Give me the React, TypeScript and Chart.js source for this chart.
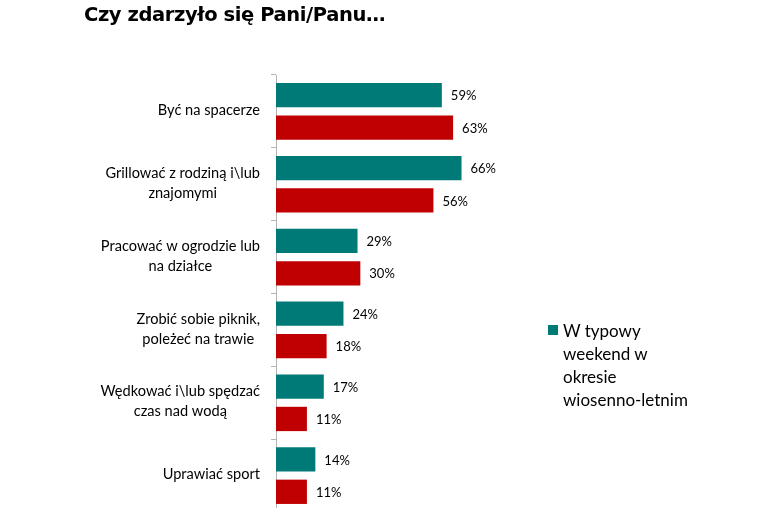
import { useEffect, useRef } from 'react';
import { Chart, registerables } from 'chart.js';

Chart.register(...registerables);

// dane
const categories: string[][] = [
  ['Być na spacerze'],
  ['Grillować z rodziną i\\lub', 'znajomymi'],
  ['Pracować w ogrodzie lub', 'na działce'],
  ['Zrobić sobie piknik,', 'poleżeć na trawie'],
  ['Wędkować i\\lub spędzać', 'czas nad wodą'],
  ['Uprawiać sport'],
];
const weekendValues = [59, 66, 29, 24, 17, 14];
const otherValues = [63, 56, 30, 18, 11, 11];
const weekendLabel = 'W typowy weekend w okresie wiosenno-letnim';
const otherLabel = 'Ogółem';

const TEAL = '#007a77';
const RED = '#c00000';
const LABEL_FONT = '14.6px Lato, "Liberation Sans", sans-serif';

// etykiety wartości obok słupków
const valueLabels = {
  id: 'valueLabels',
  afterDatasetsDraw(chart: Chart) {
    const { ctx } = chart;
    ctx.save();
    ctx.font = '13px Lato, "Liberation Sans", sans-serif';
    ctx.fillStyle = '#000';
    ctx.textAlign = 'left';
    ctx.textBaseline = 'middle';
    chart.data.datasets.forEach((ds, di) => {
      const meta = chart.getDatasetMeta(di);
      meta.data.forEach((bar: any, i) => {
        ctx.fillText(`${ds.data[i]}%`, bar.x + 9, bar.y + 1);
      });
    });
    ctx.restore();
  },
};

// etykiety kategorii, wyśrodkowane wiersze
const categoryLabels = {
  id: 'categoryLabels',
  afterDraw(chart: Chart) {
    const { ctx } = chart;
    const scale: any = chart.scales.y;
    const right = scale.right - 16;
    const lineH = 20;
    ctx.save();
    ctx.font = LABEL_FONT;
    ctx.fillStyle = '#000';
    ctx.textAlign = 'center';
    ctx.textBaseline = 'middle';
    categories.forEach((lines, i) => {
      const y = scale.getPixelForTick(i);
      const w = Math.max(...lines.map((l) => ctx.measureText(l).width));
      const cx = right - w / 2;
      const y0 = y - ((lines.length - 1) * lineH) / 2;
      lines.forEach((l, k) => ctx.fillText(l, cx, y0 + k * lineH - 1));
    });
    ctx.restore();
  },
};

export default function App() {
  const canvasRef = useRef<HTMLCanvasElement>(null);

  useEffect(() => {
    if (!canvasRef.current) return;
    const chart = new Chart(canvasRef.current, {
      type: 'bar',
      data: {
        labels: categories.map((c) => c.join(' ')),
        datasets: [
          {
            label: weekendLabel,
            data: weekendValues,
            backgroundColor: TEAL,
            categoryPercentage: 0.89,
            barPercentage: 0.75,
          },
          {
            label: otherLabel,
            data: otherValues,
            backgroundColor: RED,
            categoryPercentage: 0.89,
            barPercentage: 0.75,
          },
        ],
      },
      options: {
        indexAxis: 'y',
        animation: false,
        responsive: true,
        maintainAspectRatio: false,
        layout: { padding: { top: 75, right: 239, bottom: 4, left: 0 } },
        plugins: {
          legend: { display: false },
          tooltip: { enabled: false },
        },
        scales: {
          x: { display: false, min: 0, max: 90 },
          y: {
            afterFit: (scale: any) => {
              scale.width = 276;
            },
            ticks: { display: false },
            grid: {
              offset: true,
              drawOnChartArea: false,
              drawTicks: true,
              tickLength: 5,
              color: '#b3b3b3',
            },
            border: { display: true, color: '#b3b3b3' },
          },
        },
      },
      plugins: [valueLabels, categoryLabels],
    });
    return () => chart.destroy();
  }, []);

  return (
    <div
      style={{
        position: 'fixed',
        left: 0,
        top: 0,
        width: 768,
        height: 508,
        overflow: 'hidden',
        background: '#fff',
      }}
    >
      <div style={{ position: 'absolute', left: 0, top: 0, width: 768, height: 516 }}>
        <canvas ref={canvasRef} />
      </div>
      <div
        style={{
          position: 'absolute',
          left: 84,
          top: 3,
          fontFamily: '"DejaVu Sans", sans-serif',
          fontWeight: 'bold',
          fontSize: 19.5,
          letterSpacing: -0.4,
          color: '#000',
          whiteSpace: 'nowrap',
        }}
      >
        Czy zdarzyło się Pani/Panu…
      </div>
      <div
        style={{
          position: 'absolute',
          left: 548,
          top: 319,
          width: 160,
          fontFamily: 'Lato, "Liberation Sans", sans-serif',
          fontSize: 17,
          lineHeight: '23px',
          color: '#000',
        }}
      >
        <span
          style={{
            position: 'absolute',
            left: 0,
            top: 6,
            width: 10,
            height: 10,
            background: TEAL,
          }}
        />
        <div style={{ marginLeft: 15 }}>
          W typowy
          <br />
          weekend w
          <br />
          okresie
          <br />
          wiosenno-letnim
        </div>
      </div>
    </div>
  );
}
